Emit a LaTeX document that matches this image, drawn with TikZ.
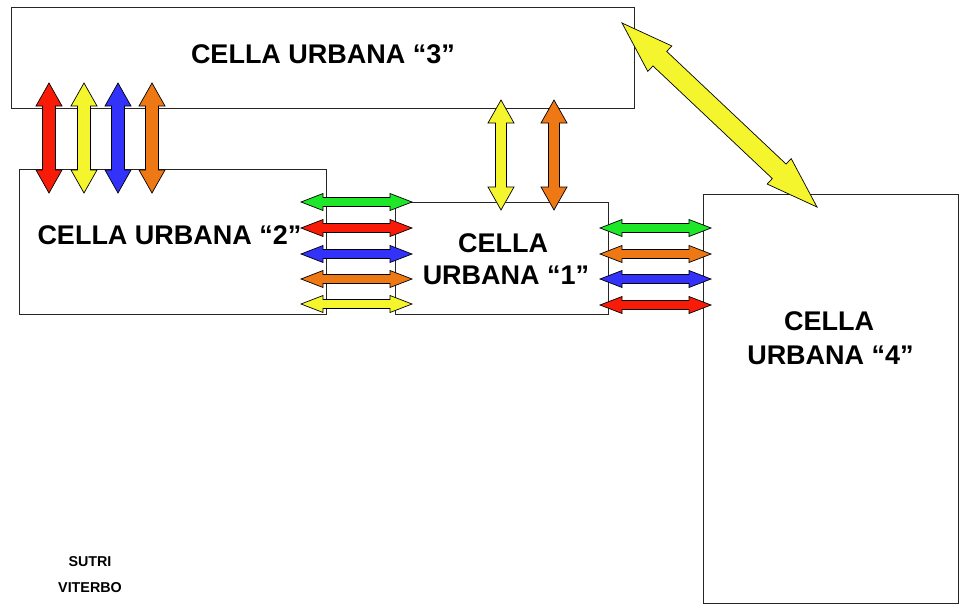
\documentclass[tikz,border=0pt]{standalone}
\usepackage{fontspec}
\setmainfont{Liberation Sans}
\definecolor{xred}{RGB}{248,28,8}
\definecolor{xyellow}{RGB}{245,245,45}
\definecolor{xblue}{RGB}{50,50,250}
\definecolor{xorange}{RGB}{238,120,20}
\definecolor{xgreen}{RGB}{30,230,40}
\tikzset{
  cell/.style={draw=black!85, line width=1pt, fill=white, inner sep=0pt, anchor=north west},
  blockarrow/.style={draw=black, line width=0.7pt, line join=miter},
  lbl/.style={font=\bfseries\fontsize{27}{32}\selectfont, inner sep=0pt, anchor=base},
  small/.style={font=\bfseries\fontsize{14.3}{17}\selectfont, inner sep=0pt, anchor=base}
}
% #1 colour, #2 start, #3 end, #4 shaft half width, #5 head half width, #6 head length
\newcommand\dblarrow[6]{%
  \path (#2); \pgfgetlastxy{\dAx}{\dAy}%
  \path (#3); \pgfgetlastxy{\dBx}{\dBy}%
  \pgfmathsetmacro\dAng{atan2((\dBy)-(\dAy),(\dBx)-(\dAx))}%
  \pgfmathsetmacro\dLen{veclen((\dBx)-(\dAx),(\dBy)-(\dAy))}%
  \pgfmathsetmacro\dHe{\dLen-#6}%
  \begin{scope}[shift={(\dAx,\dAy)}, rotate=\dAng, x=1pt, y=1pt]
    \draw[blockarrow, fill=#1] (0,0) -- (#6,#5) -- (#6,#4) -- (\dHe,#4) -- (\dHe,#5)
      -- (\dLen,0) -- (\dHe,-#5) -- (\dHe,-#4) -- (#6,-#4) -- (#6,-#5) -- cycle;
  \end{scope}}
\begin{document}
\begin{tikzpicture}[x=1pt, y=-1pt]
\useasboundingbox (0,0) rectangle (963,605);
% cells
\node[cell, minimum width=623pt, minimum height=101pt] (c3) at (11,7) {};
\node[cell, minimum width=307pt, minimum height=145pt] (c2) at (19,169) {};
\node[cell, minimum width=213pt, minimum height=112pt] (c1) at (395,202) {};
\node[cell, minimum width=255pt, minimum height=409pt] (c4) at (703,194) {};
% vertical arrows between cell 3 and cell 2
\foreach \x/\c [count=\i] in {49/xred, 84/xyellow, 118/xblue, 152/xorange} {
  \coordinate (va\i) at (\x,83);
  \coordinate (vb\i) at (\x,193);
  \dblarrow{\c}{va\i}{vb\i}{6.5}{13}{23}
}
% vertical arrows between cell 3 and cell 1
\foreach \x/\c [count=\i] in {501/xyellow, 554/xorange} {
  \coordinate (ma\i) at (\x,100);
  \coordinate (mb\i) at (\x,210);
  \dblarrow{\c}{ma\i}{mb\i}{5.5}{13}{23}
}
% horizontal arrows between cell 2 and cell 1
\foreach \y/\c [count=\i] in {202/xgreen, 228/xred, 254/xblue, 279/xorange, 304/xyellow} {
  \coordinate (ha\i) at (301,\y);
  \coordinate (hb\i) at (412,\y);
  \dblarrow{\c}{ha\i}{hb\i}{4.5}{8.5}{22}
}
% horizontal arrows between cell 1 and cell 4
\foreach \y/\c [count=\i] in {228/xgreen, 254/xorange, 279/xblue, 305/xred} {
  \coordinate (ra\i) at (600,\y);
  \coordinate (rb\i) at (711,\y);
  \dblarrow{\c}{ra\i}{rb\i}{4.5}{8.5}{22}
}
% diagonal arrow between cell 3 and cell 4
\coordinate (da) at (622,23);
\coordinate (db) at (817,207);
\dblarrow{xyellow}{da}{db}{10}{17.5}{52}
% labels
\node[lbl] (t3) at (323,63.5) {CELLA URBANA “3”};
\node[lbl] (t2) at (169.5,244) {CELLA URBANA “2”};
\node[lbl] (t1a) at (503,252) {CELLA};
\node[lbl] (t1b) at (506,284) {URBANA “1”};
\node[lbl] (t4a) at (829,330) {CELLA};
\node[lbl] (t4b) at (830.5,364) {URBANA “4”};
\node[small] (s1) at (90,566.7) {SUTRI};
\node[small] (s2) at (90,592.7) {VITERBO};
\end{tikzpicture}
\end{document}
